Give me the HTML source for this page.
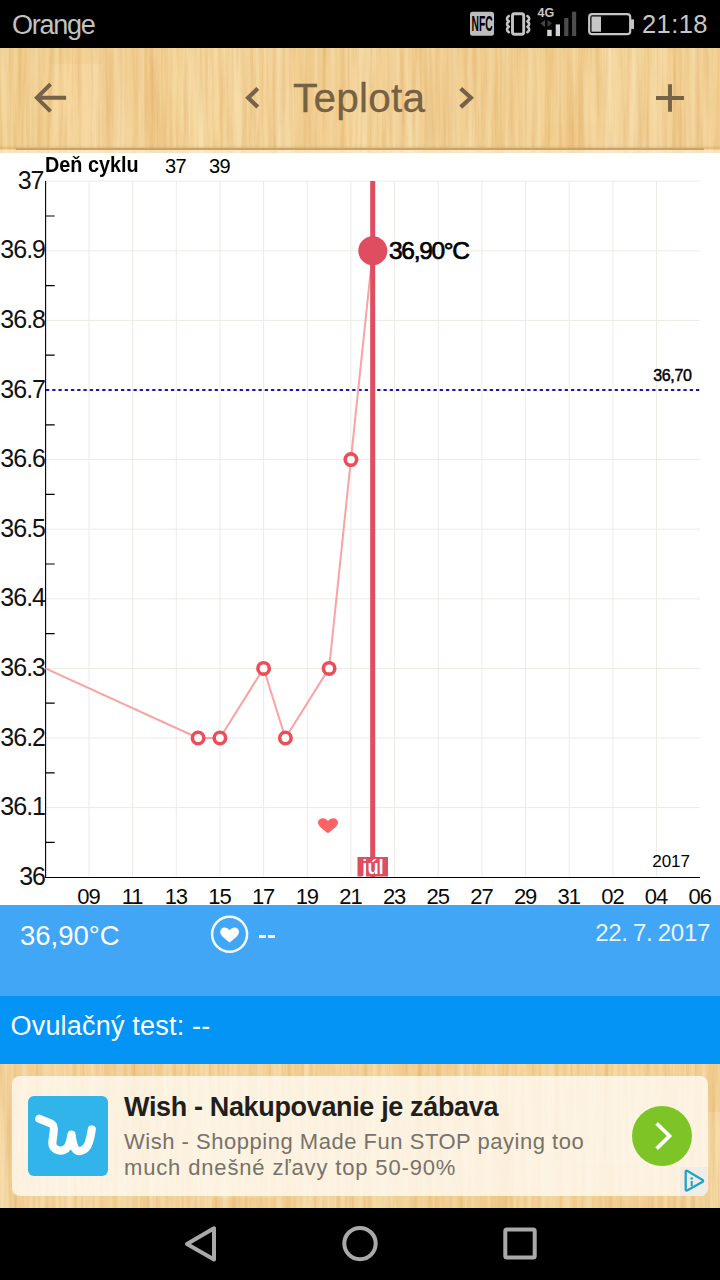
<!DOCTYPE html>
<html>
<head>
<meta charset="utf-8">
<style>
html,body{margin:0;padding:0;}
body{width:720px;height:1280px;overflow:hidden;position:relative;background:#fff;font-family:"Liberation Sans",sans-serif;}
.abs{position:absolute;white-space:nowrap;line-height:1;}
#status{position:absolute;left:0;top:0;width:720px;height:48px;background:#000;}
#header{position:absolute;left:0;top:48px;width:720px;height:105px;background:#f4d397;overflow:hidden;}
#chart{position:absolute;left:0;top:153px;width:720px;height:752px;background:#fff;overflow:hidden;}
#panel1{position:absolute;left:0;top:905px;width:720px;height:92px;background:#42a6f6;}
#panel2{position:absolute;left:0;top:996px;width:720px;height:68px;background:#0394f6;}
#adarea{position:absolute;left:0;top:1064px;width:720px;height:144px;background:#f4d397;overflow:hidden;}
#nav{position:absolute;left:0;top:1208px;width:720px;height:72px;background:#000;}
.ylab{position:absolute;white-space:nowrap;line-height:1;font-size:25px;letter-spacing:-1px;color:#111;right:675px;text-align:right;}
.xlab{position:absolute;white-space:nowrap;line-height:1;font-size:22px;letter-spacing:-1.100px;color:#0a0a0a;top:733.400px;width:40px;text-align:center;}
</style>
</head>
<body>
<div id="status">
  <div class="abs" style="left:12px;top:12.200px;font-size:27px;letter-spacing:-1.250px;color:#c2c2c2;">Orange</div>
  <div class="abs" style="left:642px;top:12.300px;font-size:25.500px;letter-spacing:0.400px;color:#c6c6c6;">21:18</div>
  <svg class="abs" style="left:460px;top:0" width="180" height="48" viewBox="460 0 180 48">
    <rect x="470" y="11.700" width="24" height="24" rx="2.500" fill="#bdbdbd"/>
    <text x="471.500" y="31.500" font-size="22" font-weight="bold" fill="#000" font-family="Liberation Sans" transform="translate(471.500 0) scale(0.470 1) translate(-471.500 0)">NFC</text>
    <rect x="512.500" y="13.700" width="11.200" height="20.600" rx="2" fill="none" stroke="#c4c4c4" stroke-width="2.900"/>
    <path d="M508.800 16 q-3.600 2.700 0 5.400 q-3.600 2.700 0 5.400 q-3.600 2.700 0 5.400" fill="none" stroke="#c4c4c4" stroke-width="2.600" stroke-linecap="round" stroke-linejoin="round"/>
    <path d="M527.400 16 q3.600 2.700 0 5.400 q3.600 2.700 0 5.400 q3.600 2.700 0 5.400" fill="none" stroke="#c4c4c4" stroke-width="2.600" stroke-linecap="round" stroke-linejoin="round"/>
    <text x="537.500" y="17.300" font-size="12.500" font-weight="bold" fill="#c8c8c8" font-family="Liberation Sans">4G</text>
    <rect x="547.200" y="29.800" width="4.500" height="6.300" fill="#d2d2d2"/>
    <rect x="555.700" y="24.400" width="4.300" height="11.700" fill="#d2d2d2"/>
    <rect x="564.200" y="18" width="4.200" height="18.100" fill="#4c4c4c"/>
    <rect x="572" y="11.700" width="4.200" height="24.400" fill="#4c4c4c"/>
    <path d="M540.500 23.500 l4.500 -3.500 v7z" fill="#484848"/><path d="M552 23.500 l-4.500 -3.500 v7z" fill="#3c3c3c"/>
    <rect x="589.200" y="14.200" width="41" height="20" rx="3" fill="none" stroke="#c6c6c6" stroke-width="2.200"/>
    <rect x="631" y="19.400" width="3" height="9.500" fill="#c6c6c6"/>
    <rect x="591.500" y="16.500" width="9.500" height="15.200" fill="#c6c6c6"/>
  </svg>
</div>

<div id="header">
  <svg class="abs" style="left:0;top:0" width="720" height="105" viewBox="0 0 720 105"><defs><filter id="wg3" x="0" y="0" width="100%" height="100%" color-interpolation-filters="sRGB">
<feTurbulence type="fractalNoise" baseFrequency="0.220 0.008" numOctaves="4" seed="3" result="n"/>
<feColorMatrix in="n" type="matrix" values="0 0 0 0 0.780  0 0 0 0 0.500  0 0 0 0 0.180  0.550 0 0 0 -0.190"/>
</filter>
<filter id="wg3b" x="0" y="0" width="100%" height="100%" color-interpolation-filters="sRGB">
<feTurbulence type="fractalNoise" baseFrequency="0.070 0.004" numOctaves="2" seed="14" result="n"/>
<feColorMatrix in="n" type="matrix" values="0 0 0 0 1  0 0 0 0 0.960  0 0 0 0 0.850  0 0.700 0 0 -0.250"/>
</filter></defs>
<rect x="-7" y="-47" width="56" height="244" fill="rgba(215,150,60,0.07)"/>
<rect x="49" y="-77" width="54" height="93" fill="rgba(215,150,60,0.05)"/>
<rect x="49" y="16" width="54" height="149" fill="rgba(255,240,200,0.10)"/>
<rect x="103" y="-69" width="67" height="230" fill="rgba(215,150,60,0.06)"/>
<rect x="170" y="-29" width="56" height="252" fill="rgba(255,240,200,0.09)"/>
<rect x="226" y="-49" width="68" height="93" fill="rgba(255,255,255,0.04)"/>
<rect x="226" y="44" width="68" height="241" fill="rgba(255,255,255,0.05)"/>
<rect x="294" y="-105" width="52" height="158" fill="rgba(215,150,60,0.07)"/>
<rect x="294" y="53" width="52" height="189" fill="rgba(215,150,60,0.06)"/>
<rect x="346" y="-17" width="66" height="183" fill="rgba(255,255,255,0.03)"/>
<rect x="412" y="-27" width="67" height="156" fill="rgba(215,150,60,0.08)"/>
<rect x="479" y="-53" width="61" height="219" fill="rgba(215,150,60,0.07)"/>
<rect x="540" y="-74" width="65" height="149" fill="rgba(225,160,70,0.08)"/>
<rect x="540" y="75" width="65" height="97" fill="rgba(225,160,70,0.10)"/>
<rect x="605" y="-89" width="57" height="173" fill="rgba(255,250,225,0.09)"/>
<rect x="605" y="84" width="57" height="235" fill="rgba(255,255,255,0.08)"/>
<rect x="662" y="-81" width="58" height="236" fill="rgba(225,160,70,0.05)"/>
<rect x="0" y="0" width="720" height="105" filter="url(#wg3)"/>
<rect x="0" y="0" width="720" height="105" filter="url(#wg3b)"/></svg>
  <div class="abs" style="left:0;top:97px;width:720px;height:4px;background:linear-gradient(rgba(190,140,70,0),rgba(190,140,70,0.350));"></div>
  <div class="abs" style="left:16px;top:100px;width:688px;height:2px;background:#c6a36d;"></div>
  <div class="abs" style="left:0;top:102px;width:720px;height:3px;background:rgba(255,245,225,0.550);"></div>
  <div class="abs" style="left:293px;top:29.500px;font-size:40.500px;letter-spacing:0.250px;-webkit-text-stroke:0.300px #756144;color:#756144;">Teplota</div>
  <svg class="abs" style="left:0;top:0" width="720" height="105" viewBox="0 48 720 105">
    <path d="M66.100 97.800 H38 M50.600 84.200 L36.900 97.800 L50.600 111.400" fill="none" stroke="#756247" stroke-width="4"/>
    <path d="M257.800 88.500 L248.200 97.800 L257.800 107.100" fill="none" stroke="#756247" stroke-width="4.200"/>
    <path d="M460.700 88.500 L470.900 97.800 L460.700 107.100" fill="none" stroke="#756247" stroke-width="4.200"/>
    <path d="M656 98 H684 M670 84.200 V111.800" fill="none" stroke="#756247" stroke-width="3.900"/>
  </svg>
</div>

<div id="chart">
<svg class="abs" style="left:0;top:0" width="720" height="752" viewBox="0 153 720 752">
  <path d="M46 181.2H700 M46 250.8H700 M46 320.4H700 M46 390.0H700 M46 459.6H700 M46 529.2H700 M46 598.8H700 M46 668.4H700 M46 738.0H700 M46 807.6H700 M89.0 181V877 M132.6 181V877 M176.3 181V877 M219.9 181V877 M263.6 181V877 M307.3 181V877 M350.9 181V877 M394.6 181V877 M438.2 181V877 M481.9 181V877 M525.6 181V877 M569.2 181V877 M612.9 181V877 M656.5 181V877" stroke="#eeeae6" stroke-width="1" fill="none"/>
  <path d="M45.500 216.0H54.700 M45.500 285.6H54.700 M45.500 355.2H54.700 M45.500 424.8H54.700 M45.500 494.4H54.700 M45.500 564.0H54.700 M45.500 633.6H54.700 M45.500 703.2H54.700 M45.500 772.8H54.700 M45.500 842.4H54.700" stroke="#000" stroke-width="1.200" fill="none"/>
  <path d="M45.600 181V878" stroke="#000" stroke-width="1.100" fill="none"/>
  <path d="M46 390.0H700" stroke="#1616b4" stroke-width="2.200" stroke-dasharray="3.200 3.050" fill="none"/>
  <path d="M45.5 668.4 L198.1 738.0 L219.9 738.0 L263.6 668.4 L285.4 738.0 L329.1 668.4 L350.9 459.6 L372.8 250.8" stroke="#f9a3a3" stroke-width="2" fill="none" stroke-linejoin="round"/>
  <rect x="370.2" y="181" width="5" height="696" fill="#de4d60"/>
  <circle cx="198.1" cy="738.0" r="5.700" fill="#fff" stroke="#ee4c57" stroke-width="3.600"/>
  <circle cx="219.9" cy="738.0" r="5.700" fill="#fff" stroke="#ee4c57" stroke-width="3.600"/>
  <circle cx="263.6" cy="668.4" r="5.700" fill="#fff" stroke="#ee4c57" stroke-width="3.600"/>
  <circle cx="285.4" cy="738.0" r="5.700" fill="#fff" stroke="#ee4c57" stroke-width="3.600"/>
  <circle cx="329.1" cy="668.4" r="5.700" fill="#fff" stroke="#ee4c57" stroke-width="3.600"/>
  <circle cx="350.9" cy="459.6" r="5.700" fill="#fff" stroke="#ee4c57" stroke-width="3.600"/>
  <circle cx="372.8" cy="250.8" r="14.500" fill="#de4d60"/>
  <rect x="357.500" y="857" width="30.500" height="19.500" fill="#de4d60"/>
  <path d="M328 833.300 C321.500 828.300 318 825.800 318 822.500 C318 820 320.100 818.200 322.700 818.200 C324.900 818.200 326.900 819.300 328 821 C329.100 819.300 331.100 818.200 333.300 818.200 C335.900 818.200 338 820 338 822.500 C338 825.800 334.500 828.300 328 833.300Z" fill="#fb6365"/>
</svg>
<div class="ylab" style="top:14.7px;right:676.500px">37</div>
<div class="ylab" style="top:84.3px">36.9</div>
<div class="ylab" style="top:153.9px">36.8</div>
<div class="ylab" style="top:223.5px">36.7</div>
<div class="ylab" style="top:293.1px">36.6</div>
<div class="ylab" style="top:362.7px">36.5</div>
<div class="ylab" style="top:432.3px">36.4</div>
<div class="ylab" style="top:501.9px">36.3</div>
<div class="ylab" style="top:571.5px">36.2</div>
<div class="ylab" style="top:641.1px">36.1</div>
<div class="ylab" style="top:710.7px">36</div>
<div class="xlab" style="left:68.5px">09</div>
<div class="xlab" style="left:112.1px">11</div>
<div class="xlab" style="left:155.8px">13</div>
<div class="xlab" style="left:199.4px">15</div>
<div class="xlab" style="left:243.1px">17</div>
<div class="xlab" style="left:286.8px">19</div>
<div class="xlab" style="left:330.4px">21</div>
<div class="xlab" style="left:374.1px">23</div>
<div class="xlab" style="left:417.7px">25</div>
<div class="xlab" style="left:461.4px">27</div>
<div class="xlab" style="left:505.1px">29</div>
<div class="xlab" style="left:548.7px">31</div>
<div class="xlab" style="left:592.4px">02</div>
<div class="xlab" style="left:636.0px">04</div>
<div class="xlab" style="left:679.7px">06</div>
<div class="abs" style="left:44.500px;top:1px;font-size:22px;font-weight:bold;color:#000;transform-origin:0 50%;transform:scaleX(0.900);">Deň cyklu</div>
<div class="abs" style="left:155.500px;top:3px;width:40px;text-align:center;font-size:20px;letter-spacing:-0.500px;color:#000;">37</div>
<div class="abs" style="left:199.500px;top:3px;width:40px;text-align:center;font-size:20px;letter-spacing:-0.500px;color:#000;">39</div>
<div class="abs" style="left:389px;top:85.500px;font-size:24.500px;-webkit-text-stroke:0.700px #000;color:#000;letter-spacing:-1.300px;">36,90°C</div>
<div class="abs" style="right:28.300px;top:215px;font-size:16px;-webkit-text-stroke:0.450px #000;color:#000;letter-spacing:-0.300px;">36,70</div>
<div class="abs" style="right:30px;top:700px;font-size:17px;color:#000;">2017</div>
<div class="abs" style="left:353px;top:703px;width:40px;text-align:center;font-size:21px;font-weight:bold;color:#fff;transform:scaleX(0.870);">júl</div>
<div class="abs" style="left:45px;top:723.550px;width:654.500px;height:1.300px;background:#000;"></div>
</div>


<div id="panel1">
  <div class="abs" style="left:20px;top:17px;font-size:27.500px;color:#fff;">36,90°C</div>
  <div class="abs" style="left:259.200px;top:30.200px;width:7px;height:2.500px;background:#eef6fe;"></div>
  <div class="abs" style="left:267.800px;top:30.200px;width:7px;height:2.500px;background:#eef6fe;"></div>
  <div class="abs" style="right:10px;top:16px;font-size:24px;letter-spacing:-0.300px;word-spacing:-1px;color:#eaf4fe;">22. 7. 2017</div>
  <svg class="abs" style="left:208px;top:8px" width="44" height="44" viewBox="208 913 44 44">
    <circle cx="229.600" cy="934.300" r="17.500" fill="none" stroke="#f2f8fe" stroke-width="2.500"/>
    <path d="M229.600 942.500 C223 937.500 220.200 935 220.200 931.800 C220.200 929.300 222.200 927.500 224.600 927.500 C226.600 927.500 228.500 928.600 229.600 930.300 C230.700 928.600 232.600 927.500 234.600 927.500 C237 927.500 239 929.300 239 931.800 C239 935 236.200 937.500 229.600 942.500Z" fill="#fff"/>
  </svg>
</div>
<div id="panel2">
  <div class="abs" style="left:10.500px;top:16.500px;font-size:27px;letter-spacing:0.200px;color:#fff;">Ovulačný test: --</div>
</div>

<div id="adarea">
  <svg class="abs" style="left:0;top:0" width="720" height="145" viewBox="0 0 720 145"><defs><filter id="wg7" x="0" y="0" width="100%" height="100%" color-interpolation-filters="sRGB">
<feTurbulence type="fractalNoise" baseFrequency="0.220 0.008" numOctaves="4" seed="7" result="n"/>
<feColorMatrix in="n" type="matrix" values="0 0 0 0 0.780  0 0 0 0 0.500  0 0 0 0 0.180  0.550 0 0 0 -0.190"/>
</filter>
<filter id="wg7b" x="0" y="0" width="100%" height="100%" color-interpolation-filters="sRGB">
<feTurbulence type="fractalNoise" baseFrequency="0.070 0.004" numOctaves="2" seed="18" result="n"/>
<feColorMatrix in="n" type="matrix" values="0 0 0 0 1  0 0 0 0 0.960  0 0 0 0 0.850  0 0.700 0 0 -0.250"/>
</filter></defs>
<rect x="-10" y="-101" width="56" height="256" fill="rgba(255,255,255,0.04)"/>
<rect x="46" y="-93" width="55" height="239" fill="rgba(255,255,255,0.09)"/>
<rect x="101" y="-9" width="58" height="112" fill="rgba(215,150,60,0.06)"/>
<rect x="101" y="103" width="58" height="151" fill="rgba(255,255,255,0.07)"/>
<rect x="159" y="-144" width="53" height="121" fill="rgba(255,240,200,0.07)"/>
<rect x="159" y="-23" width="53" height="239" fill="rgba(255,255,255,0.07)"/>
<rect x="212" y="-12" width="64" height="146" fill="rgba(255,255,255,0.07)"/>
<rect x="212" y="134" width="64" height="124" fill="rgba(225,160,70,0.06)"/>
<rect x="276" y="-78" width="55" height="233" fill="rgba(255,240,200,0.04)"/>
<rect x="331" y="-95" width="58" height="114" fill="rgba(255,250,225,0.08)"/>
<rect x="331" y="19" width="58" height="234" fill="rgba(255,255,255,0.07)"/>
<rect x="389" y="-136" width="67" height="199" fill="rgba(225,160,70,0.06)"/>
<rect x="389" y="63" width="67" height="206" fill="rgba(225,160,70,0.05)"/>
<rect x="456" y="-62" width="57" height="110" fill="rgba(255,250,225,0.05)"/>
<rect x="456" y="48" width="57" height="216" fill="rgba(225,160,70,0.08)"/>
<rect x="513" y="-18" width="61" height="120" fill="rgba(255,250,225,0.06)"/>
<rect x="513" y="102" width="61" height="177" fill="rgba(255,240,200,0.10)"/>
<rect x="574" y="-10" width="65" height="109" fill="rgba(255,250,225,0.07)"/>
<rect x="574" y="99" width="65" height="170" fill="rgba(225,160,70,0.08)"/>
<rect x="639" y="-116" width="67" height="107" fill="rgba(255,255,255,0.10)"/>
<rect x="639" y="-9" width="67" height="211" fill="rgba(255,255,255,0.03)"/>
<rect x="706" y="-114" width="61" height="162" fill="rgba(215,150,60,0.09)"/>
<rect x="706" y="48" width="61" height="178" fill="rgba(255,255,255,0.10)"/>
<rect x="0" y="0" width="720" height="145" filter="url(#wg7)"/>
<rect x="0" y="0" width="720" height="145" filter="url(#wg7b)"/></svg>
  <div class="abs" style="left:12px;top:12px;width:696px;height:120px;background:rgba(255,250,243,0.800);border-radius:8px;"></div>
  <div class="abs" style="left:27.700px;top:32px;width:80.600px;height:80.300px;background:#30b4ea;border-radius:6px;"></div>
  <svg class="abs" style="left:27.700px;top:32px" width="81" height="81" viewBox="0 0 81 81"><path d="M11.300 22.800 L23.500 27.800 C27.500 29.800 25 40 24.300 46.500 C23.800 55 35.500 57.500 40 50.500 C42 47 43 42.500 43.500 38.500 C44 43.500 45 49 47 52.500 C50 57 57.500 55.500 60.500 47.500 C62.300 42.500 63.200 38 63.800 33.500" fill="none" stroke="#fff" stroke-width="8.200" stroke-linecap="round" stroke-linejoin="round"/></svg>
  <div class="abs" style="left:124px;top:29.7px;font-size:27px;font-weight:bold;letter-spacing:-0.350px;color:#221e1b;">Wish - Nakupovanie je zábava</div>
  <div class="abs" style="left:124px;top:67px;font-size:22px;letter-spacing:0.520px;color:#77726b;">Wish - Shopping Made Fun STOP paying too</div>
  <div class="abs" style="left:124px;top:93px;font-size:22px;letter-spacing:0.850px;color:#77726b;">much dnešné zľavy top 50-90%</div>
  <div class="abs" style="left:632px;top:42px;width:60px;height:60px;border-radius:30px;background:#7dc526;"></div>
  <div class="abs" style="left:679.700px;top:102.700px;width:28.300px;height:29.200px;background:#f1ede6;border-bottom-right-radius:8px;"></div>
  <svg class="abs" style="left:679px;top:102px" width="30" height="30" viewBox="679 1166 30 30"><path d="M685.700 1172 Q685.700 1170 687.500 1171 L702.300 1179.800 Q704 1180.900 702.300 1182 L687.500 1190.300 Q685.700 1191.200 685.700 1189.300 Z" fill="none" stroke="#1fa3c9" stroke-width="2.300" stroke-linecap="round" stroke-linejoin="round"/><circle cx="691.700" cy="1178.500" r="1.300" fill="#1fa3c9"/><rect x="690.700" y="1181" width="2" height="5.300" fill="#1fa3c9"/></svg>
  <svg class="abs" style="left:632px;top:42px" width="60" height="60" viewBox="0 0 60 60"><path d="M26 18.800 L37.500 30 L26 41.200" fill="none" stroke="#fff" stroke-width="3.800" stroke-linecap="square"/></svg>
</div>

<div id="nav">
  <svg class="abs" style="left:0;top:0" width="720" height="72" viewBox="0 1208 720 72">
    <path d="M214 1228.300 V1259.500 L187 1243.900Z" fill="none" stroke="#a9a9a9" stroke-width="4" stroke-linejoin="round"/>
    <circle cx="360" cy="1243.600" r="15.700" fill="none" stroke="#a9a9a9" stroke-width="4"/>
    <rect x="505.300" y="1229.600" width="29.400" height="28" rx="1.500" fill="none" stroke="#a9a9a9" stroke-width="4"/>
  </svg>
</div>
</body>
</html>
